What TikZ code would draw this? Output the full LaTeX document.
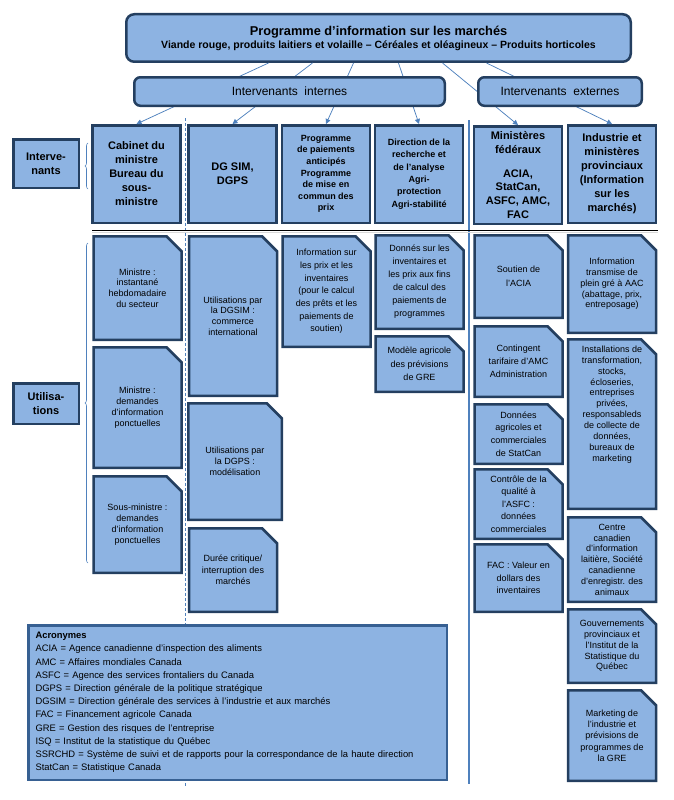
\documentclass[tikz,border=0pt]{standalone}
\usepackage{fontspec}
\setmainfont{Liberation Sans}
\usepackage{xcolor}
\usetikzlibrary{positioning, arrows.meta, decorations.pathreplacing, backgrounds}

\definecolor{boxfill}{HTML}{8DB3E2}
\definecolor{boxline}{HTML}{243F60}
\definecolor{linkblue}{HTML}{4F81BD}
\definecolor{acrline}{HTML}{376092}

\begin{document}
\begin{tikzpicture}[
    x=1pt, y=-1pt,
    link/.style={linkblue, line width=0.75pt, -{Triangle[length=5pt, width=5pt]}},
    topbox/.style={draw=boxline, line width=2.5pt, fill=boxfill, rounded corners=8pt, align=center},
    grpbox/.style={draw=boxline, line width=2.5pt, fill=boxfill, rounded corners=6pt, font=\fontsize{12}{14}\selectfont},
    labelbox/.style={draw=boxline, line width=2.5pt, fill=boxfill, minimum width=65.5pt, align=center, inner sep=2pt, font=\fontsize{11}{14}\selectfont\bfseries},
    headbox/.style={draw=boxline, line width=2.5pt, fill=boxfill, minimum width=88pt, minimum height=97.5pt, align=center, inner sep=2pt, font=\fontsize{11}{14}\selectfont\bfseries},
    headsmall/.style={headbox, font=\fontsize{9}{11.6}\selectfont\bfseries},
    snipline/.style={draw=boxline, line width=2.5pt, fill=boxfill, line join=miter},
    infobox/.style={minimum width=88pt, inner sep=2pt, outer sep=0pt, align=center, font=\fontsize{9}{10.8}\selectfont,
        append after command={\pgfextra{\begin{pgfonlayer}{background}
            \draw[snipline] (\tikzlastnode.north west) -- ([xshift=-15pt]\tikzlastnode.north east)
                -- ([yshift=-15pt]\tikzlastnode.north east) -- (\tikzlastnode.south east)
                -- (\tikzlastnode.south west) -- cycle;
        \end{pgfonlayer}}}},
    infoloose/.style={infobox, font=\fontsize{9}{12.7}\selectfont},
    brace/.style={linkblue, line width=0.6pt, decorate, decoration={brace, amplitude=3pt}}
]
    \useasboundingbox (0,0) rectangle (674,800);

    % --- Dividers ---
    \draw[linkblue, line width=0.75pt, dash pattern=on 3pt off 2pt] (185,118) -- (185,786);
    \draw[linkblue, line width=2pt] (469,120) -- (469,784);
    \draw[black!15, line width=1pt] (92,232) -- (658,232);
    \draw[black, line width=1pt] (92,230) -- (658,230);

    % --- Programme ---
    \node[topbox, minimum width=504.5pt, minimum height=47.5pt] (prog) at (378.5,38)
        {{\fontsize{12.8}{14}\selectfont\bfseries Programme d'information sur les marchés}\\[1pt]
         {\fontsize{10.5}{12}\selectfont\bfseries Viande rouge, produits laitiers et volaille -- Céréales et oléagineux -- Produits horticoles}};

    % --- Intervenants (row labels) ---
    \node[labelbox, minimum height=48.5pt] (lblint) at (46,163.5) {Interve-\\nants};
    \node[labelbox, minimum height=40.5pt] (lbluse) at (46,403.5) {Utilisa-\\tions};

    % --- Column heads ---
    \node[headbox] (cab) at (136.5,174) {Cabinet du\\ministre\\Bureau du\\sous-\\ministre};
    \node[headbox] (dgs) at (232.5,174) {DG SIM,\\DGPS};
    \node[headsmall] (ppa) at (326,174) {Programme\\de paiements\\anticipés\\Programme\\de mise en\\commun des\\prix};
    \node[headsmall, font=\fontsize{9}{12.4}\selectfont\bfseries] (dir) at (419,174) {Direction de la\\recherche et\\de l'analyse\\Agri-\\protection\\Agri-stabilité};
    \node[headbox, font=\fontsize{11}{13.7}\selectfont\bfseries] (minf) at (518,175) {Ministères\\fédéraux\\[10pt]ACIA,\\StatCan,\\ASFC, AMC,\\FAC};
    \node[headbox] (ind) at (612,174) {Industrie et\\ministères\\provinciaux\\(Information\\sur les\\marchés)};

    % Connections Programme to columns
    \foreach \dx/\col in {-110/cab, -66/dgs, -25/ppa, 20/dir, 64/minf, 108/ind}
        \draw[link] ([xshift=\dx pt]prog.south) -- (\col.north);

    % --- Groups (drawn over the links) ---
    \node[grpbox, minimum width=310.5pt, minimum height=28.5pt] (intern) at (289.5,91.5) {Intervenants\ \ internes};
    \node[grpbox, minimum width=163.5pt, minimum height=28.5pt] (extern) at (560,91.5) {Intervenants\ \ externes};

    % Braces
    \draw[brace] (88,189) -- (88,143);
    \draw[brace] (88,563) -- (88,243);

    % --- Utilisations: cabinet ---
    \node[infobox, minimum height=103.5pt] (minhebdo) at (137.5,288) {Ministre :\\instantané\\hebdomadaire\\du secteur};
    \node[infobox, minimum height=120.5pt] (mindem) at (137.5,407.5) {Ministre :\\demandes\\d'information\\ponctuelles};
    \node[infobox, minimum height=96.5pt] (ssmdem) at (137.5,524.5) {Sous-ministre :\\demandes\\d'information\\ponctuelles};

    % --- Utilisations: DGSIM, DGPS ---
    \node[infobox, minimum height=159.5pt] (dgsimuse) at (233,316) {Utilisations par\\la DGSIM :\\commerce\\international};
    \node[infobox, minimum height=116.5pt, minimum width=93.5pt] (dgpsuse) at (235,461.5) {Utilisations par\\la DGPS :\\modélisation};
    \node[infobox, minimum height=83.5pt, font=\fontsize{9}{11.5}\selectfont] (duree) at (233,570) {Durée critique/\\interruption des\\marchés};

    % --- Utilisations: paiements, direction ---
    \node[infoloose, minimum height=110.5pt] (prixinv) at (326.5,291.5) {Information sur\\les prix et les\\inventaires\\(pour le calcul\\des prêts et les\\paiements de\\soutien)};
    \node[infoloose, minimum height=93.5pt, font=\fontsize{9}{13}\selectfont] (donnes) at (419.5,282) {Donnés sur les\\inventaires et\\les prix aux fins\\de calcul des\\paiements de\\programmes};
    \node[infoloose, minimum height=55.5pt, font=\fontsize{9}{13.5}\selectfont] (modele) at (419.5,364) {Modèle agricole\\des prévisions\\de GRE};

    % --- Utilisations: federal ---
    \node[infoloose, minimum height=82.5pt, font=\fontsize{9}{14}\selectfont] (soutien) at (518.5,276.5) {Soutien de\\l'ACIA};
    \node[infoloose, minimum height=70.5pt, font=\fontsize{9}{13}\selectfont] (conting) at (518.5,361.5) {Contingent\\tarifaire d'AMC\\Administration};
    \node[infoloose, minimum height=59.5pt] (statcan) at (518.5,434) {Données\\agricoles et\\commerciales\\de StatCan};
    \node[infoloose, minimum height=69.5pt, font=\fontsize{9}{12.5}\selectfont] (asfc) at (518.5,504) {Contrôle de la\\qualité à\\l'ASFC :\\données\\commerciales};
    \node[infoloose, minimum height=67.5pt, font=\fontsize{9}{12.5}\selectfont] (fac) at (518.5,578) {FAC : Valeur en\\dollars des\\inventaires};

    % --- Utilisations: industry, provinces ---
    \node[infobox, minimum height=97.5pt] (transmise) at (612,284) {Information\\transmise de\\plein gré à AAC\\(abattage, prix,\\entreposage)};
    \node[infobox, minimum height=169.5pt] (install) at (612,424) {};
    \node[font=\fontsize{9}{10.9}\selectfont, align=center, below=3pt of install.north] (installtxt) {Installations de\\transformation,\\stocks,\\écloseries,\\entreprises\\privées,\\responsableds\\de collecte de\\données,\\bureaux de\\marketing};
    \node[infobox, minimum height=84.5pt] (laitiere) at (612,559.5) {Centre\\canadien\\d'information\\laitière, Société\\canadienne\\d'enregistr. des\\animaux};
    \node[infobox, minimum height=73.5pt] (provgov) at (612,646) {Gouvernements\\provinciaux et\\l'Institut de la\\Statistique du\\Québec};
    \node[infobox, minimum height=90.5pt, font=\fontsize{9}{11.3}\selectfont] (gremkt) at (612,735.5) {Marketing de\\l'industrie et\\prévisions de\\programmes de\\la GRE};

    % --- Acronyms ---
    \node[draw=acrline, line width=2.5pt, fill=boxfill, minimum width=418.5pt, minimum height=154.5pt, text width=404pt, inner xsep=7pt, align=left, font=\fontsize{9.4}{13.2}\selectfont] (acro) at (237.5,702.5)
        {\textbf{Acronymes}\\
         ACIA = Agence canadienne d'inspection des aliments\\
         AMC = Affaires mondiales Canada\\
         ASFC = Agence des services frontaliers du Canada\\
         DGPS = Direction générale de la politique stratégique\\
         DGSIM = Direction générale des services à l'industrie et aux marchés\\
         FAC = Financement agricole Canada\\
         GRE = Gestion des risques de l'entreprise\\
         ISQ = Institut de la statistique du Québec\\
         \mbox{SSRCHD = Système de suivi et de rapports pour la correspondance de la haute direction}\\
         StatCan = Statistique Canada};

\end{tikzpicture}
\end{document}
